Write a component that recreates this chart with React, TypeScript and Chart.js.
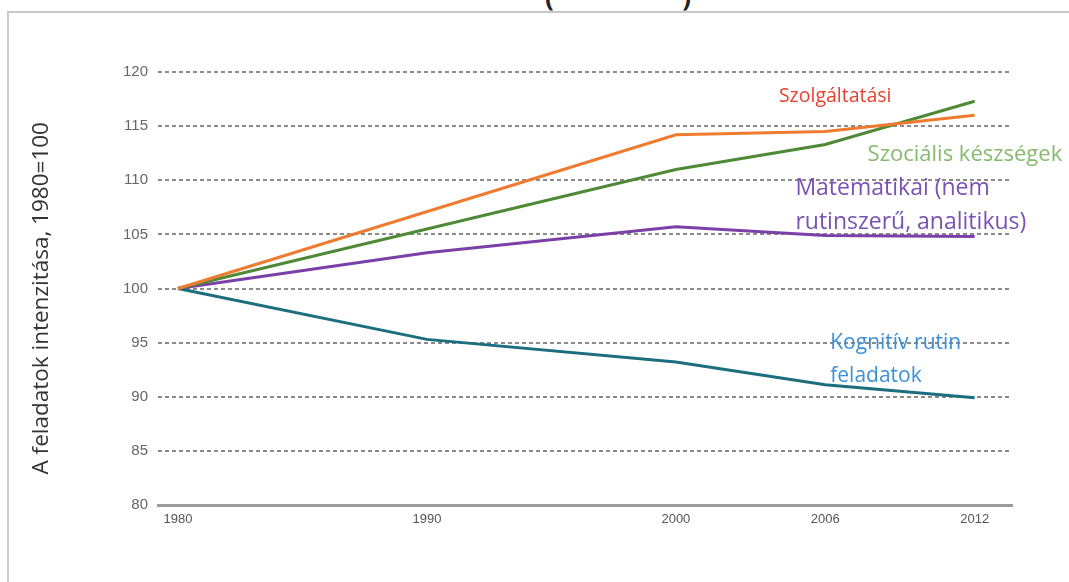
import React, { useEffect, useRef } from "react";
import { Chart, registerables } from "chart.js";

Chart.register(...registerables);

const tickYears = [1980, 1990, 2000, 2006, 2012];
const szolgaltatasi = [
  { x: 1980, y: 100 },
  { x: 2000, y: 114.2 },
  { x: 2006, y: 114.5 },
  { x: 2012, y: 116.0 },
];
const szocialis = [
  { x: 1980, y: 100 },
  { x: 2000, y: 111.0 },
  { x: 2006, y: 113.3 },
  { x: 2012, y: 117.3 },
];
const matematikai = [
  { x: 1980, y: 100 },
  { x: 1990, y: 103.3 },
  { x: 2000, y: 105.7 },
  { x: 2006, y: 104.9 },
  { x: 2012, y: 104.8 },
];
const kognitiv = [
  { x: 1980, y: 100 },
  { x: 1990, y: 95.3 },
  { x: 2000, y: 93.2 },
  { x: 2006, y: 91.1 },
  { x: 2012, y: 89.9 },
];

const seriesNames = ["Szolgáltatási", "Szociális készségek", "Matematikai", "Kognitív rutin"];
const lineColors = ["#ee7b30", "#4e8a36", "#7a40a8", "#1c6d7e"];

// in-chart labels
const labelLines = [
  ["Szolgáltatási"],
  ["Szociális készségek"],
  ["Matematikai (nem", "rutinszerű, analitikus)"],
  ["Kognitív rutin", "feladatok"],
];
const labelX = [2006.4, 2007.7, 2004.8, 2006.2];
const labelY = [117.7, 112.4, 109.2, 95.0];
const labelColors = ["#e8402f", "#86bb6e", "#7a52b3", "#3d8fd6"];
const labelAlign = ["center", "left", "left", "left"];
const labelSizes = [19.5, 22, 23, 21];

const yTitle = "A feladatok intenzitása, 1980=100";

const labelPlugin = {
  id: "inlineLabels",
  afterDatasetsDraw(chart: any) {
    const { ctx, scales } = chart;
    const xs = scales.x;
    const ys = scales.y;
    const lh = Math.abs(ys.getPixelForValue(0) - ys.getPixelForValue(3.1));
    ctx.save();
    ctx.textBaseline = "middle";
    labelLines.forEach((lines, i) => {
      ctx.font = `${labelSizes[i]}px "Open Sans", sans-serif`;
      ctx.fillStyle = labelColors[i];
      ctx.textAlign = labelAlign[i] as CanvasTextAlign;
      const px = xs.getPixelForValue(labelX[i]);
      const py = ys.getPixelForValue(labelY[i]);
      lines.forEach((t, j) => {
        ctx.fillText(t, px, py + j * lh);
      });
    });
    // y-axis title, centred slightly below the plot centre as in the source
    ctx.translate(42, ys.getPixelForValue(99.1));
    ctx.rotate(-Math.PI / 2);
    ctx.font = '22.5px "Open Sans", sans-serif';
    ctx.fillStyle = "#333";
    ctx.textAlign = "center";
    ctx.fillText(yTitle, 0, 0);
    ctx.restore();
  },
};

export default function App() {
  const ref = useRef<HTMLCanvasElement>(null);
  useEffect(() => {
    document.body.style.overflow = "hidden";
    const sets = [szolgaltatasi, szocialis, matematikai, kognitiv];
    const chart = new Chart(ref.current as HTMLCanvasElement, {
      type: "line",
      data: {
        datasets: sets.map((d, i) => ({
          label: seriesNames[i],
          data: d,
          borderColor: lineColors[i],
          backgroundColor: lineColors[i],
          borderWidth: 3,
          pointRadius: 0,
          tension: 0,
          fill: false,
        })),
      },
      options: {
        animation: false,
        responsive: false,
        maintainAspectRatio: false,
        layout: { padding: { left: 0, top: 72, right: 57, bottom: 45 } },
        plugins: { legend: { display: false }, tooltip: { enabled: false } },
        scales: {
          x: {
            type: "linear",
            min: 1979.2,
            max: 2013.5,
            afterBuildTicks: (s: any) => {
              s.ticks = tickYears.map((v) => ({ value: v }));
            },
            afterFit: (s: any) => {
              s.height = 32;
            },
            grid: { display: false, drawTicks: false },
            border: { display: true, color: "#9a9a9a", width: 3 },
            ticks: {
              padding: 7,
              color: "#555",
              font: { family: '"Liberation Sans Narrow", "Liberation Sans", sans-serif', size: 13 },
              callback: (v: any) => String(v),
              maxRotation: 0,
            },
          },
          y: {
            min: 80,
            max: 120,
            afterFit: (s: any) => {
              s.width = 158;
            },
            ticks: {
              stepSize: 5,
              padding: 10,
              color: "#666",
              font: { family: '"Liberation Sans Narrow", "Liberation Sans", sans-serif', size: 15 },
            },
            grid: {
              drawTicks: false,
              color: (c: any) => (c.tick && c.tick.value === 80 ? "rgba(0,0,0,0)" : "#8a8a8a"),
              lineWidth: 2,
            },
            border: { display: false, dash: [4, 3] },
          },
        },
      },
      plugins: [labelPlugin],
    });
    return () => chart.destroy();
  }, []);
  return (
    <div style={{ position: "absolute", left: 0, top: 0, width: 1069, height: 582, overflow: "hidden", background: "#fff" }}>
      <div
        style={{
          position: "absolute",
          left: 7,
          top: 11,
          width: 1080,
          height: 600,
          borderTop: "2px solid #c9c9c9",
          borderLeft: "2px solid #c9c9c9",
        }}
      />
      <div
        style={{
          position: "absolute",
          top: -22,
          left: 545,
          fontFamily: '"Open Sans", sans-serif',
          fontWeight: 700,
          fontSize: 26,
          color: "#222",
          whiteSpace: "pre",
        }}
      >
        {"(                   )"}
      </div>
      <canvas ref={ref} width={1069} height={582} style={{ position: "absolute", left: 0, top: 0 }} />
    </div>
  );
}
